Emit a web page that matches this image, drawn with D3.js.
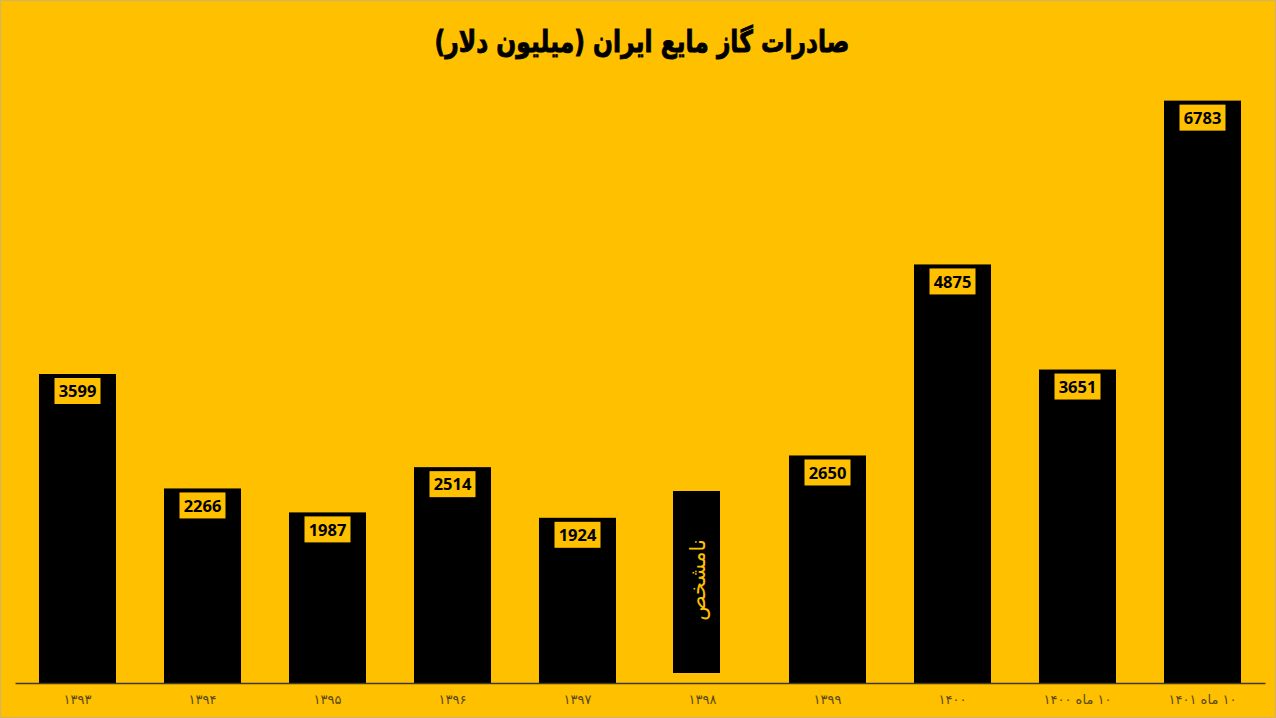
<!DOCTYPE html>
<html>
<head>
<meta charset="utf-8">
<script src="https://cdn.jsdelivr.net/npm/d3@7"></script>
<style>
  html, body { margin: 0; padding: 0; background: #FFC000; }
  #chart { width: 1276px; height: 718px; }
</style>
</head>
<body>
<div id="chart"></div>
<script>
// data
const title = "صادرات گاز مایع ایران (میلیون دلار)";
const categories = ["۱۳۹۳", "۱۳۹۴", "۱۳۹۵", "۱۳۹۶", "۱۳۹۷", "۱۳۹۸", "۱۳۹۹", "۱۴۰۰", "۱۰ ماه ۱۴۰۰", "۱۰ ماه ۱۴۰۱"];
const values = [3599, 2266, 1987, 2514, 1924, null, 2650, 4875, 3651, 6783];
// 1398 has no figure, the picture shows a note box instead
const unknownCategory = "۱۳۹۸";
const unknownText = "نامشخص";

let dim = { width: 1276, height: 718 };
let plot = { left: 15, right: 1265, top: 82, bottom: 683 };

let svg = d3.select('#chart').append('svg')
    .attr('width', dim.width)
    .attr('height', dim.height)
    .style('background', '#FFC000');

// faint frame round the picture
svg.append('rect')
    .attr('x', 0.5).attr('y', 0.5)
    .attr('width', dim.width - 1).attr('height', dim.height - 1)
    .attr('fill', 'none')
    .attr('stroke', '#d8b656')
    .attr('stroke-width', 1.5);

let x = d3.scaleBand()
    .domain(categories)
    .range([plot.left, plot.right])
    .paddingInner(0.384)
    .paddingOuter(0.192);

let y = d3.scaleLinear()
    .domain([0, 7000])
    .range([plot.bottom, plot.top]);

// title, squeezed to the width it has in the picture
let titleG = svg.append('g');
let titleText = titleG.append('text')
    .attr('text-anchor', 'middle')
    .attr('direction', 'rtl')
    .style('font-family', '"DejaVu Sans", sans-serif')
    .style('font-weight', 'bold')
    .style('font-size', '30px')
    .attr('fill', '#000')
    .attr('stroke', '#000')
    .attr('stroke-width', 0.9)
    .text(title);
let tw = titleText.node().getComputedTextLength();
titleG.attr('transform', `translate(642,52) scale(${415 / tw},1)`);

let rows = categories.map((c, i) => ({ cat: c, val: values[i] }));
let known = rows.filter(d => d.val != null);

// bars
svg.append('g').selectAll('rect')
    .data(known)
    .join('rect')
    .attr('x', d => x(d.cat))
    .attr('y', d => y(d.val))
    .attr('width', x.bandwidth())
    .attr('height', d => y(0) - y(d.val))
    .attr('fill', '#000');

// value labels in yellow boxes
let lab = svg.append('g').selectAll('g')
    .data(known)
    .join('g')
    .attr('transform', d => `translate(${x(d.cat) + x.bandwidth() / 2},${y(d.val) + 17})`);

lab.append('rect')
    .attr('x', -23).attr('y', -13)
    .attr('width', 46).attr('height', 26)
    .attr('fill', '#FFC000');

lab.append('text')
    .attr('text-anchor', 'middle')
    .attr('dy', '0.37em')
    .style('font-family', '"Open Sans", sans-serif')
    .style('font-weight', 'bold')
    .style('font-size', '16.5px')
    .attr('fill', '#000')
    .text(d => d.val);

// note box for the unknown year
let bx = x(unknownCategory) + 9;
svg.append('rect')
    .attr('x', bx)
    .attr('y', 491)
    .attr('width', 47)
    .attr('height', 182)
    .attr('fill', '#000');

svg.append('text')
    .attr('transform', `translate(${bx + 25},580) rotate(-90)`)
    .attr('text-anchor', 'middle')
    .attr('dy', '0.35em')
    .attr('direction', 'rtl')
    .style('font-family', '"DejaVu Sans", sans-serif')
    .style('font-size', '21px')
    .attr('fill', '#FFC000')
    .text(unknownText);

// x axis
let xAxis = svg.append('g')
    .attr('transform', `translate(0,${plot.bottom})`)
    .call(d3.axisBottom(x).tickSize(0).tickPadding(12));

xAxis.select('.domain')
    .attr('stroke', '#3f3a2a')
    .attr('stroke-width', 1.6);

xAxis.selectAll('text')
    .attr('direction', 'rtl')
    .style('font-family', '"DejaVu Sans", sans-serif')
    .style('font-size', '13px')
    .attr('fill', '#5a4a1a');
</script>
</body>
</html>
